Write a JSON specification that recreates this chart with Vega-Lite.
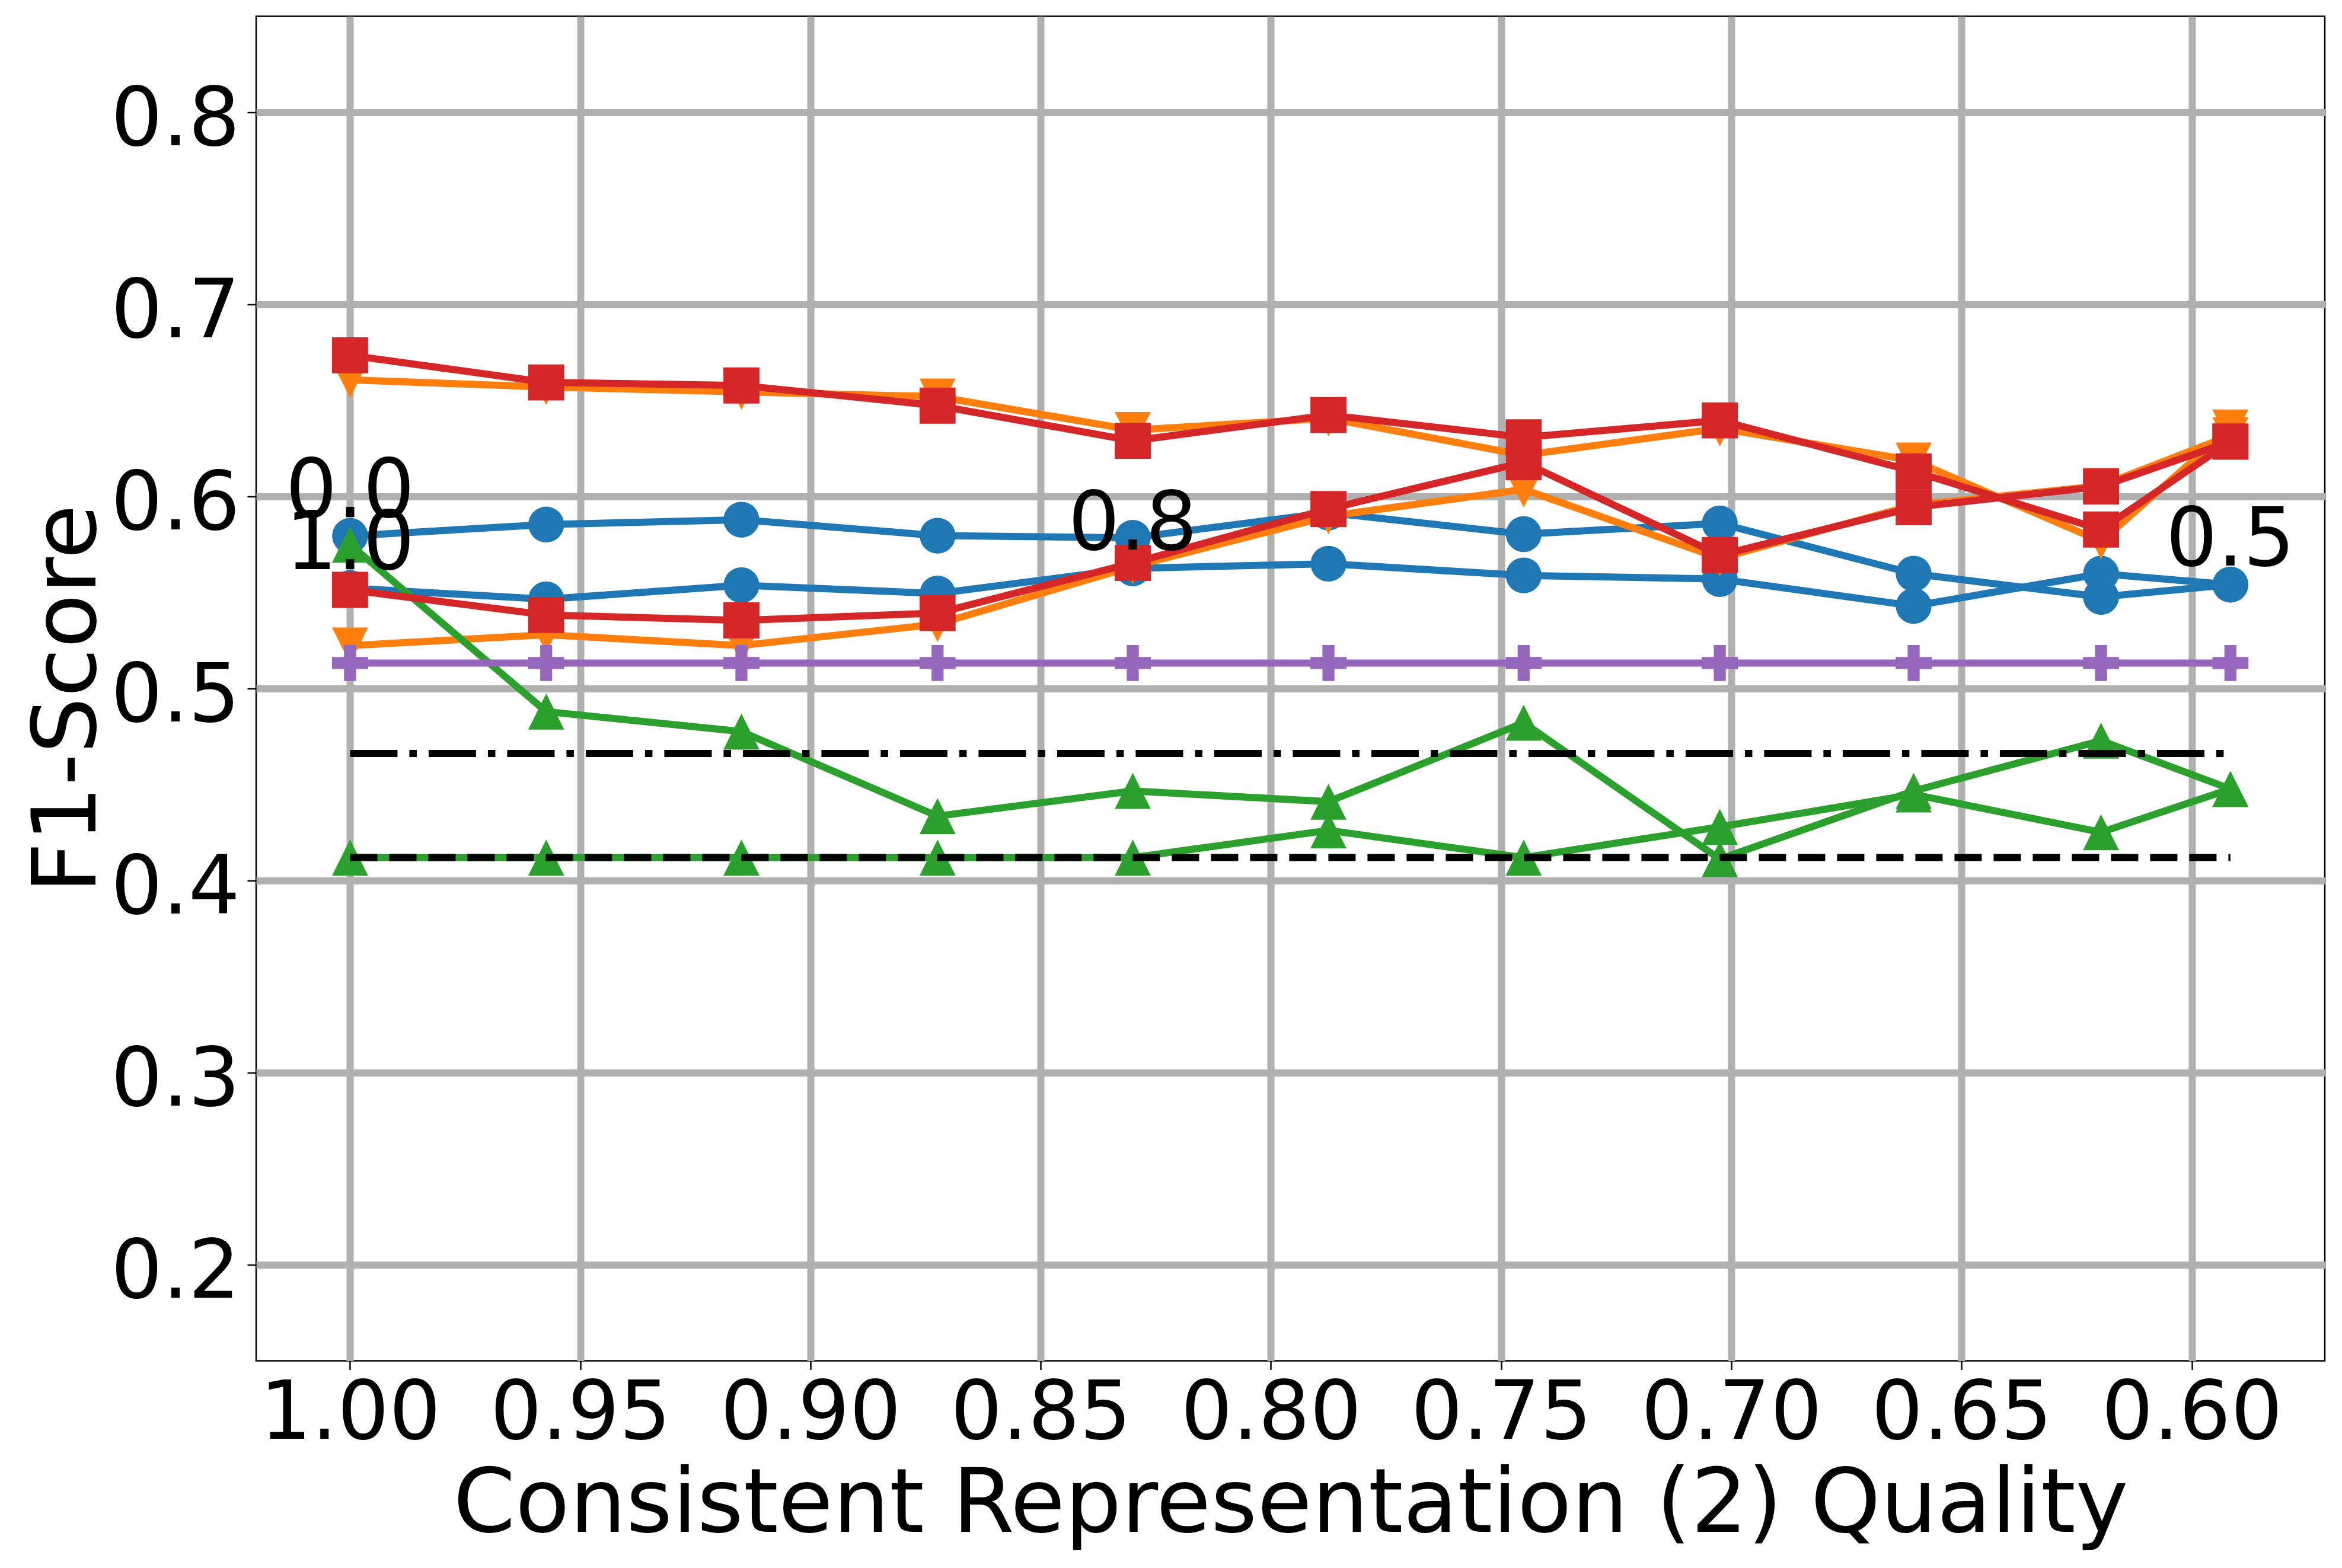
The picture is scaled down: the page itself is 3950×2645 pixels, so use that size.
{
  "$schema": "https://vega.github.io/schema/vega-lite/v6.json",
  "width": 3489,
  "height": 2268,
  "autosize": {"type": "none"},
  "padding": {"left": 432, "top": 27.5, "right": 29, "bottom": 349.5},
  "background": "white",
  "datasets": {
    "series": [
      {"s": "bA", "g": "blue", "x": 1.0, "y": 0.5795},
      {"s": "bA", "g": "blue", "x": 0.9574, "y": 0.5854},
      {"s": "bA", "g": "blue", "x": 0.915, "y": 0.5879},
      {"s": "bA", "g": "blue", "x": 0.8724, "y": 0.5796},
      {"s": "bA", "g": "blue", "x": 0.830, "y": 0.5785},
      {"s": "bA", "g": "blue", "x": 0.7875, "y": 0.5916},
      {"s": "bA", "g": "blue", "x": 0.7451, "y": 0.5804},
      {"s": "bA", "g": "blue", "x": 0.7025, "y": 0.586},
      {"s": "bA", "g": "blue", "x": 0.6604, "y": 0.5598},
      {"s": "bA", "g": "blue", "x": 0.6197, "y": 0.5477},
      {"s": "bA", "g": "blue", "x": 0.5916, "y": 0.5541},
      {"s": "bB", "g": "blue", "x": 1.0, "y": 0.5523},
      {"s": "bB", "g": "blue", "x": 0.9574, "y": 0.5465},
      {"s": "bB", "g": "blue", "x": 0.915, "y": 0.5538},
      {"s": "bB", "g": "blue", "x": 0.8724, "y": 0.5495},
      {"s": "bB", "g": "blue", "x": 0.830, "y": 0.5626},
      {"s": "bB", "g": "blue", "x": 0.7875, "y": 0.565},
      {"s": "bB", "g": "blue", "x": 0.7451, "y": 0.5589},
      {"s": "bB", "g": "blue", "x": 0.7025, "y": 0.557},
      {"s": "bB", "g": "blue", "x": 0.6604, "y": 0.543},
      {"s": "bB", "g": "blue", "x": 0.6197, "y": 0.5598},
      {"s": "bB", "g": "blue", "x": 0.5916, "y": 0.5541},
      {"s": "oA", "g": "orange", "x": 1.0, "y": 0.6607},
      {"s": "oA", "g": "orange", "x": 0.9574, "y": 0.657},
      {"s": "oA", "g": "orange", "x": 0.915, "y": 0.6545},
      {"s": "oA", "g": "orange", "x": 0.8724, "y": 0.652},
      {"s": "oA", "g": "orange", "x": 0.830, "y": 0.6346},
      {"s": "oA", "g": "orange", "x": 0.7875, "y": 0.6407},
      {"s": "oA", "g": "orange", "x": 0.7451, "y": 0.6215},
      {"s": "oA", "g": "orange", "x": 0.7025, "y": 0.6355},
      {"s": "oA", "g": "orange", "x": 0.6604, "y": 0.6187},
      {"s": "oA", "g": "orange", "x": 0.6197, "y": 0.5766},
      {"s": "oA", "g": "orange", "x": 0.5916, "y": 0.6359},
      {"s": "oB", "g": "orange", "x": 1.0, "y": 0.5224},
      {"s": "oB", "g": "orange", "x": 0.9574, "y": 0.528},
      {"s": "oB", "g": "orange", "x": 0.915, "y": 0.5224},
      {"s": "oB", "g": "orange", "x": 0.8724, "y": 0.5336},
      {"s": "oB", "g": "orange", "x": 0.830, "y": 0.5636},
      {"s": "oB", "g": "orange", "x": 0.7875, "y": 0.5897},
      {"s": "oB", "g": "orange", "x": 0.7451, "y": 0.6037},
      {"s": "oB", "g": "orange", "x": 0.7025, "y": 0.5678},
      {"s": "oB", "g": "orange", "x": 0.6604, "y": 0.5955},
      {"s": "oB", "g": "orange", "x": 0.6197, "y": 0.6056},
      {"s": "oB", "g": "orange", "x": 0.5916, "y": 0.6318},
      {"s": "gA", "g": "green", "x": 1.0, "y": 0.575},
      {"s": "gA", "g": "green", "x": 0.9574, "y": 0.488},
      {"s": "gA", "g": "green", "x": 0.915, "y": 0.4776},
      {"s": "gA", "g": "green", "x": 0.8724, "y": 0.4336},
      {"s": "gA", "g": "green", "x": 0.830, "y": 0.4467},
      {"s": "gA", "g": "green", "x": 0.7875, "y": 0.4411},
      {"s": "gA", "g": "green", "x": 0.7451, "y": 0.4822},
      {"s": "gA", "g": "green", "x": 0.7025, "y": 0.4112},
      {"s": "gA", "g": "green", "x": 0.6604, "y": 0.4467},
      {"s": "gA", "g": "green", "x": 0.6197, "y": 0.4729},
      {"s": "gA", "g": "green", "x": 0.5916, "y": 0.4477},
      {"s": "gB", "g": "green", "x": 1.0, "y": 0.412},
      {"s": "gB", "g": "green", "x": 0.9574, "y": 0.412},
      {"s": "gB", "g": "green", "x": 0.915, "y": 0.412},
      {"s": "gB", "g": "green", "x": 0.8724, "y": 0.412},
      {"s": "gB", "g": "green", "x": 0.830, "y": 0.412},
      {"s": "gB", "g": "green", "x": 0.7875, "y": 0.4262},
      {"s": "gB", "g": "green", "x": 0.7451, "y": 0.412},
      {"s": "gB", "g": "green", "x": 0.7025, "y": 0.428},
      {"s": "gB", "g": "green", "x": 0.6604, "y": 0.4449},
      {"s": "gB", "g": "green", "x": 0.6197, "y": 0.4252},
      {"s": "gB", "g": "green", "x": 0.5916, "y": 0.4477},
      {"s": "rA", "g": "red", "x": 1.0, "y": 0.6735},
      {"s": "rA", "g": "red", "x": 0.9574, "y": 0.6594},
      {"s": "rA", "g": "red", "x": 0.915, "y": 0.6578},
      {"s": "rA", "g": "red", "x": 0.8724, "y": 0.6473},
      {"s": "rA", "g": "red", "x": 0.830, "y": 0.629},
      {"s": "rA", "g": "red", "x": 0.7875, "y": 0.6424},
      {"s": "rA", "g": "red", "x": 0.7451, "y": 0.6308},
      {"s": "rA", "g": "red", "x": 0.7025, "y": 0.6396},
      {"s": "rA", "g": "red", "x": 0.6604, "y": 0.6131},
      {"s": "rA", "g": "red", "x": 0.6197, "y": 0.5828},
      {"s": "rA", "g": "red", "x": 0.5916, "y": 0.6286},
      {"s": "rB", "g": "red", "x": 1.0, "y": 0.5514},
      {"s": "rB", "g": "red", "x": 0.9574, "y": 0.5383},
      {"s": "rB", "g": "red", "x": 0.915, "y": 0.5355},
      {"s": "rB", "g": "red", "x": 0.8724, "y": 0.5393},
      {"s": "rB", "g": "red", "x": 0.830, "y": 0.5654},
      {"s": "rB", "g": "red", "x": 0.7875, "y": 0.5935},
      {"s": "rB", "g": "red", "x": 0.7451, "y": 0.6178},
      {"s": "rB", "g": "red", "x": 0.7025, "y": 0.5695},
      {"s": "rB", "g": "red", "x": 0.6604, "y": 0.5944},
      {"s": "rB", "g": "red", "x": 0.6197, "y": 0.6052},
      {"s": "rB", "g": "red", "x": 0.5916, "y": 0.6286},
      {"s": "p", "g": "purple", "x": 1.0, "y": 0.5133},
      {"s": "p", "g": "purple", "x": 0.9574, "y": 0.5133},
      {"s": "p", "g": "purple", "x": 0.915, "y": 0.5133},
      {"s": "p", "g": "purple", "x": 0.8724, "y": 0.5133},
      {"s": "p", "g": "purple", "x": 0.830, "y": 0.5133},
      {"s": "p", "g": "purple", "x": 0.7875, "y": 0.5133},
      {"s": "p", "g": "purple", "x": 0.7451, "y": 0.5133},
      {"s": "p", "g": "purple", "x": 0.7025, "y": 0.5133},
      {"s": "p", "g": "purple", "x": 0.6604, "y": 0.5133},
      {"s": "p", "g": "purple", "x": 0.6197, "y": 0.5133},
      {"s": "p", "g": "purple", "x": 0.5916, "y": 0.5133}
    ],
    "refs": [
      {"kind": "dashdot", "x": 1.0, "x2": 0.5916, "y": 0.4662},
      {"kind": "dashed", "x": 1.0, "x2": 0.5916, "y": 0.412}
    ],
    "notes": [
      {"label": "0.0", "x": 1.0, "y": 0.5795},
      {"label": "1.0", "x": 1.0, "y": 0.5523},
      {"label": "0.8", "x": 0.830, "y": 0.5626},
      {"label": "0.5", "x": 0.5916, "y": 0.5541}
    ]
  },
  "data": {"name": "series"},
  "encoding": {
    "x": {
      "field": "x", "type": "quantitative",
      "scale": {"domain": [0.5711, 1.0204], "reverse": true, "nice": false, "zero": false},
      "axis": {
        "title": "Consistent Representation (2) Quality",
        "values": [1.0, 0.95, 0.9, 0.85, 0.8, 0.75, 0.7, 0.65, 0.6],
        "format": ".2f",
        "labelPadding": 8,
        "labelFlush": false,
        "labelOverlap": false,
        "titleBaseline": "alphabetic",
        "titleY": 287.5
      }
    },
    "y": {
      "field": "y", "type": "quantitative",
      "scale": {"domain": [0.15, 0.85], "nice": false, "zero": false},
      "axis": {
        "title": "F1-Score",
        "values": [0.2, 0.3, 0.4, 0.5, 0.6, 0.7, 0.8],
        "format": ".1f",
        "labelPadding": 12.5,
        "labelBaseline": "alphabetic",
        "labelOffset": 55,
        "labelFlush": false,
        "labelOverlap": false,
        "titleBaseline": "alphabetic",
        "titleX": -272,
        "titleY": 1151
      }
    }
  },
  "layer": [
    {
      "transform": [{"filter": "datum.g == 'blue'"}],
      "layer": [
        {"mark": {"type": "line", "color": "#1f77b4", "strokeWidth": 12, "strokeJoin": "round"}, "encoding": {"detail": {"field": "s"}}},
        {"mark": {"type": "point", "filled": true, "opacity": 1, "shape": "circle", "size": 3650, "color": "#1f77b4"}, "encoding": {"detail": {"field": "s"}}}
      ]
    },
    {
      "transform": [{"filter": "datum.g == 'orange'"}],
      "layer": [
        {"mark": {"type": "line", "color": "#ff7f0e", "strokeWidth": 12, "strokeJoin": "round"}, "encoding": {"detail": {"field": "s"}}},
        {"mark": {"type": "point", "filled": true, "opacity": 1, "shape": "M0,1L-1,-1L1,-1Z", "size": 3700, "color": "#ff7f0e"}, "encoding": {"detail": {"field": "s"}}}
      ]
    },
    {
      "transform": [{"filter": "datum.g == 'green'"}],
      "layer": [
        {"mark": {"type": "line", "color": "#2ca02c", "strokeWidth": 12, "strokeJoin": "round"}, "encoding": {"detail": {"field": "s"}}},
        {"mark": {"type": "point", "filled": true, "opacity": 1, "shape": "M0,-1L-1,1L1,1Z", "size": 3700, "color": "#2ca02c"}, "encoding": {"detail": {"field": "s"}}}
      ]
    },
    {
      "transform": [{"filter": "datum.g == 'red'"}],
      "layer": [
        {"mark": {"type": "line", "color": "#d62728", "strokeWidth": 12, "strokeJoin": "round"}, "encoding": {"detail": {"field": "s"}}},
        {"mark": {"type": "point", "filled": true, "opacity": 1, "shape": "square", "size": 3700, "color": "#d62728"}, "encoding": {"detail": {"field": "s"}}}
      ]
    },
    {
      "transform": [{"filter": "datum.g == 'purple'"}],
      "layer": [
        {"mark": {"type": "line", "color": "#9467bd", "strokeWidth": 12, "strokeJoin": "round"}, "encoding": {"detail": {"field": "s"}}},
        {"mark": {"type": "point", "filled": true, "opacity": 1, "shape": "M-0.333,-1L0.333,-1L0.333,-0.333L1,-0.333L1,0.333L0.333,0.333L0.333,1L-0.333,1L-0.333,0.333L-1,0.333L-1,-0.333L-0.333,-0.333Z", "size": 3700, "color": "#9467bd"}, "encoding": {"detail": {"field": "s"}}}
      ]
    },
    {
      "data": {"name": "refs"},
      "transform": [{"filter": "datum.kind == 'dashdot'"}],
      "mark": {"type": "rule", "color": "#000000", "strokeWidth": 12, "strokeDash": [80, 20, 12.5, 20], "strokeCap": "butt"},
      "encoding": {"x2": {"field": "x2"}}
    },
    {
      "data": {"name": "refs"},
      "transform": [{"filter": "datum.kind == 'dashed'"}],
      "mark": {"type": "rule", "color": "#000000", "strokeWidth": 12, "strokeDash": [46, 20], "strokeCap": "butt"},
      "encoding": {"x2": {"field": "x2"}}
    },
    {
      "data": {"name": "notes"},
      "mark": {"type": "text", "font": "DejaVu Sans", "fontSize": 137, "align": "center", "baseline": "bottom", "dy": -3, "color": "#000000"},
      "encoding": {"text": {"field": "label"}}
    }
  ],
  "config": {
    "font": "DejaVu Sans",
    "view": {"stroke": "#000000", "strokeWidth": 2.5},
    "axis": {
      "grid": true,
      "gridColor": "#b0b0b0",
      "gridWidth": 12,
      "gridOpacity": 1,
      "domain": false,
      "ticks": true,
      "tickColor": "#000000",
      "tickWidth": 2.5,
      "tickSize": 15,
      "labelFont": "DejaVu Sans",
      "labelFontSize": 137,
      "labelColor": "#000000",
      "labelLimit": 0,
      "titleFont": "DejaVu Sans",
      "titleFontSize": 150,
      "titleFontWeight": "normal",
      "titleColor": "#000000",
      "titleLimit": 0
    }
  }
}
